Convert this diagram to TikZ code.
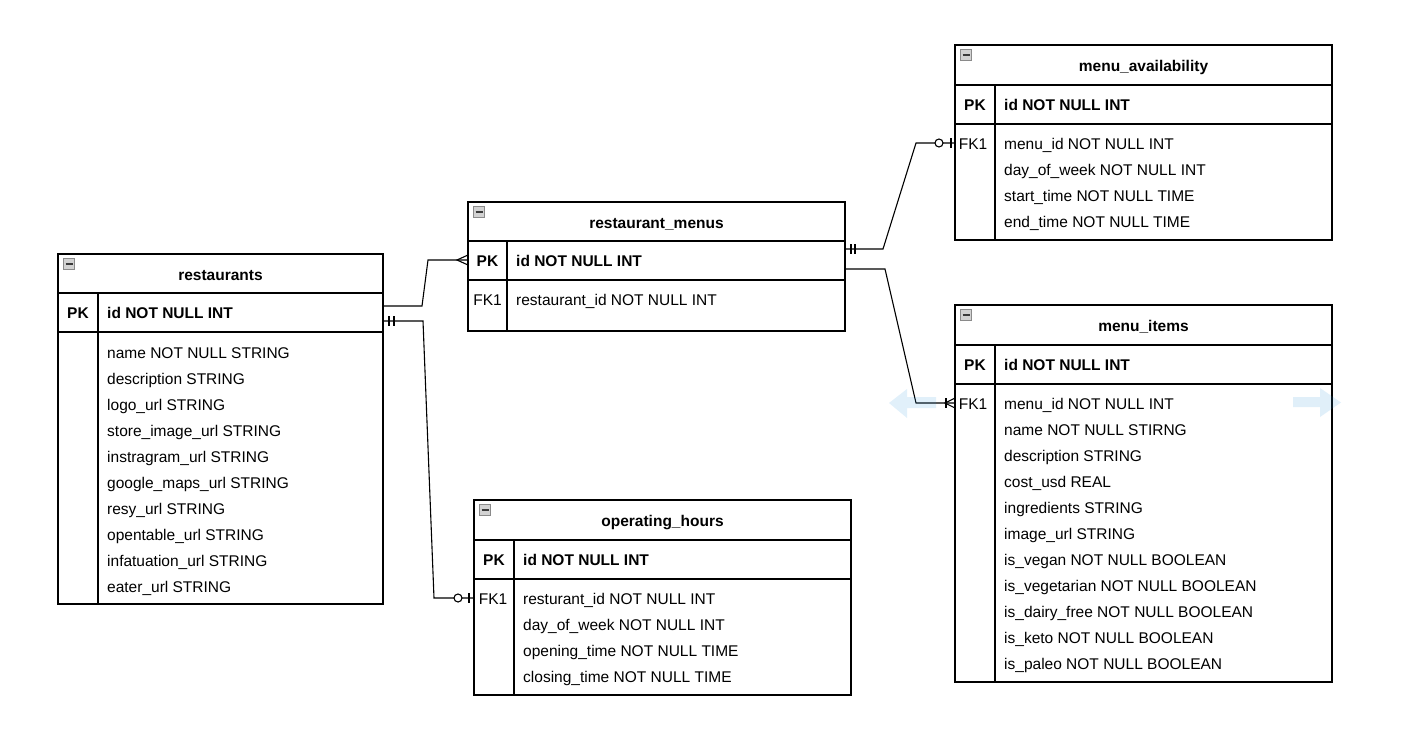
\documentclass[tikz,border=0pt]{standalone}
\usepackage{fontspec}
\setmainfont{Liberation Sans}
\usepackage{tikz}
\definecolor{ERIcon}{HTML}{D2D2D2}
\definecolor{ERIconEdge}{HTML}{8A8A8A}
\definecolor{ERDash}{HTML}{3A3A3A}
\definecolor{ERHint}{HTML}{3399DD}
\newcommand\erfont{\fontsize{15.5}{18}\selectfont}

\tikzset{
  erframe/.style={draw=black,line width=1.2pt,fill=white,anchor=north west,inner sep=0pt,outer sep=0pt},
  ersep/.style={draw=black,line width=1.2pt},
  ericon/.style={draw=ERIconEdge,fill=ERIcon,line width=0.6pt,minimum size=11pt,inner sep=0pt,
    path picture={\draw[ERDash,line width=1.8pt] ([xshift=-3.5pt]path picture bounding box.center) -- ([xshift=3.5pt]path picture bounding box.center);}},
  ertitle/.style={anchor=base,inner sep=0pt,font=\erfont\bfseries},
  erkey/.style={anchor=base,inner sep=0pt,font=\erfont\bfseries},
  erfk/.style={anchor=base,inner sep=0pt,font=\erfont},
  erfield/.style={anchor=base west,inner sep=0pt,font=\erfont},
  erlink/.style={draw=black,line width=1.1pt},
  erhint/.style={fill=ERHint,fill opacity=0.15},
}

\begin{document}
\begin{tikzpicture}[x=1pt,y=-1pt]
\path[use as bounding box] (0,0) rectangle (1402,744);

% restaurants
\node[erframe,minimum width=325pt,minimum height=350pt] (rest) at (58,254) {};
\draw[ersep] (58,293) -- (383,293) (58,332) -- (383,332) (98,293) -- (98,604);
\node[ericon] (rest-icon) at (69,264) {};
\node[ertitle] (rest-title) at (220.5,280) {restaurants};
\node[erkey] (rest-pk) at (78,318.5) {PK};
\node[erfield] (rest-id) at (107,318.5) {\bfseries id NOT NULL INT};
\foreach \txt [count=\i from 0] in {name NOT NULL STRING,description STRING,logo\_url STRING,
  store\_image\_url STRING,instragram\_url STRING,google\_maps\_url STRING,resy\_url STRING,
  opentable\_url STRING,infatuation\_url STRING,eater\_url STRING}
  \node[erfield] (rest-f\i) at (107,{358.5+26*\i}) {\txt};

% restaurant_menus
\node[erframe,minimum width=377pt,minimum height=129pt] (menus) at (468,202) {};
\draw[ersep] (468,241) -- (845,241) (468,280) -- (845,280) (507,241) -- (507,331);
\node[ericon] (menus-icon) at (479,212) {};
\node[ertitle] (menus-title) at (656.5,228) {restaurant\_menus};
\node[erkey] (menus-pk) at (487.5,266.5) {PK};
\node[erfield] (menus-id) at (516,266.5) {\bfseries id NOT NULL INT};
\node[erfk] (menus-fk) at (487.5,305.5) {FK1};
\node[erfield] (menus-f0) at (516,305.5) {restaurant\_id NOT NULL INT};

% menu_availability
\node[erframe,minimum width=377pt,minimum height=195pt] (avail) at (955,45) {};
\draw[ersep] (955,85) -- (1332,85) (955,124) -- (1332,124) (995,85) -- (995,240);
\node[ericon] (avail-icon) at (966,55) {};
\node[ertitle] (avail-title) at (1143.5,71.5) {menu\_availability};
\node[erkey] (avail-pk) at (975,110.5) {PK};
\node[erfield] (avail-id) at (1004,110.5) {\bfseries id NOT NULL INT};
\node[erfk] (avail-fk) at (973,149.5) {FK1};
\foreach \txt [count=\i from 0] in {menu\_id NOT NULL INT,day\_of\_week NOT NULL INT,
  start\_time NOT NULL TIME,end\_time NOT NULL TIME}
  \node[erfield] (avail-f\i) at (1004,{149.5+26*\i}) {\txt};

% menu_items
\node[erframe,minimum width=377pt,minimum height=377pt] (items) at (955,305) {};
\draw[ersep] (955,345) -- (1332,345) (955,384) -- (1332,384) (995,345) -- (995,682);
\node[ericon] (items-icon) at (966,315) {};
\node[ertitle] (items-title) at (1143.5,331.5) {menu\_items};
\node[erkey] (items-pk) at (975,370.5) {PK};
\node[erfield] (items-id) at (1004,370.5) {\bfseries id NOT NULL INT};
\node[erfk] (items-fk) at (973,409.5) {FK1};
\foreach \txt [count=\i from 0] in {menu\_id NOT NULL INT,name NOT NULL STIRNG,description STRING,
  cost\_usd REAL,ingredients STRING,image\_url STRING,is\_vegan NOT NULL BOOLEAN,
  is\_vegetarian NOT NULL BOOLEAN,is\_dairy\_free NOT NULL BOOLEAN,is\_keto NOT NULL BOOLEAN,
  is\_paleo NOT NULL BOOLEAN}
  \node[erfield] (items-f\i) at (1004,{409.5+26*\i}) {\txt};

% operating_hours
\node[erframe,minimum width=377pt,minimum height=195pt] (hours) at (474,500) {};
\draw[ersep] (474,540) -- (851,540) (474,579) -- (851,579) (514,540) -- (514,695);
\node[ericon] (hours-icon) at (485,510) {};
\node[ertitle] (hours-title) at (662.5,526.5) {operating\_hours};
\node[erkey] (hours-pk) at (494,565.5) {PK};
\node[erfield] (hours-id) at (523,565.5) {\bfseries id NOT NULL INT};
\node[erfk] (hours-fk) at (493,604.5) {FK1};
\foreach \txt [count=\i from 0] in {resturant\_id NOT NULL INT,day\_of\_week NOT NULL INT,
  opening\_time NOT NULL TIME,closing\_time NOT NULL TIME}
  \node[erfield] (hours-f\i) at (523,{604.5+26*\i}) {\txt};

% link ends
\coordinate (rest-out1) at ([yshift=-52pt]rest.north east);
\coordinate (rest-out2) at ([yshift=-67pt]rest.north east);
\coordinate (menus-in) at ([yshift=-58pt]menus.north west);
\coordinate (menus-out1) at ([yshift=-47pt]menus.north east);
\coordinate (menus-out2) at ([yshift=-67pt]menus.north east);
\coordinate (avail-in) at ([yshift=-98pt]avail.north west);
\coordinate (items-in) at ([yshift=-98pt]items.north west);
\coordinate (hours-in) at ([yshift=-98pt]hours.north west);

% restaurants -> restaurant_menus (many)
\draw[erlink] (rest-out1) -- ++(39,0) -- ([xshift=-40pt]menus-in) -- (menus-in);
\draw[erlink] ([yshift=5pt]menus-in) -- ([xshift=-11pt]menus-in) -- ([yshift=-5pt]menus-in);

% restaurants -> operating_hours (one / zero or one)
\draw[erlink] (rest-out2) -- ++(40,0) -- ([xshift=-40pt]hours-in) -- (hours-in);
\draw[erlink] ([xshift=6pt,yshift=5pt]rest-out2) -- ([xshift=6pt,yshift=-5pt]rest-out2)
  ([xshift=11pt,yshift=5pt]rest-out2) -- ([xshift=11pt,yshift=-5pt]rest-out2);
\draw[erlink] ([xshift=-5pt,yshift=5pt]hours-in) -- ([xshift=-5pt,yshift=-5pt]hours-in);
\draw[erlink,fill=white] ([xshift=-16pt]hours-in) circle[radius=4pt];

% restaurant_menus -> menu_availability (one / zero or one)
\draw[erlink] (menus-out1) -- ++(38,0) -- ([xshift=-39pt]avail-in) -- (avail-in);
\draw[erlink] ([xshift=6pt,yshift=5pt]menus-out1) -- ([xshift=6pt,yshift=-5pt]menus-out1)
  ([xshift=10pt,yshift=5pt]menus-out1) -- ([xshift=10pt,yshift=-5pt]menus-out1);
\draw[erlink] ([xshift=-4pt,yshift=5pt]avail-in) -- ([xshift=-4pt,yshift=-5pt]avail-in);
\draw[erlink,fill=white] ([xshift=-16pt]avail-in) circle[radius=4pt];

% restaurant_menus -> menu_items (one or many)
\draw[erlink] (menus-out2) -- ++(40,0) -- ([xshift=-39pt]items-in) -- (items-in);
\draw[erlink] ([yshift=5pt]items-in) -- ([xshift=-10pt]items-in) -- ([yshift=-5pt]items-in);
\draw[erlink] ([xshift=-9pt,yshift=5pt]items-in) -- ([xshift=-9pt,yshift=-5pt]items-in);

% hover hints
\fill[erhint] (936,397) -- (907,397) -- (907,389) -- (889,403) -- (907,418) -- (907,408) -- (936,408) -- cycle;
\fill[erhint] (1293,397) -- (1320,397) -- (1320,388) -- (1341,402.5) -- (1320,417) -- (1320,407) -- (1293,407) -- cycle;
\end{tikzpicture}
\end{document}
